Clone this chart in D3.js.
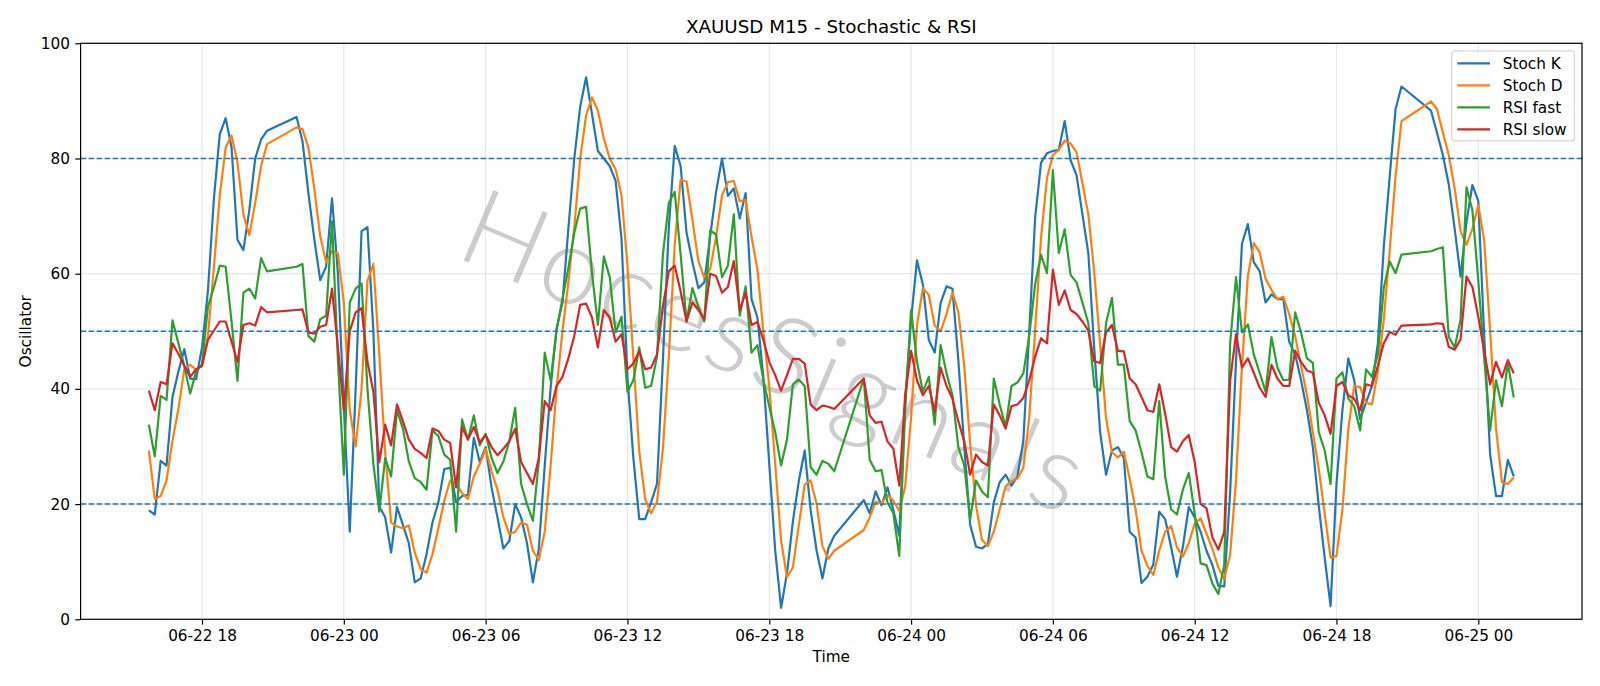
<!DOCTYPE html>
<html>
<head>
<meta charset="utf-8">
<title>XAUUSD M15 - Stochastic & RSI</title>
<script src="https://cdn.jsdelivr.net/npm/d3@7"></script>
<style>
body { margin: 0; background: #fff; }
svg { display: block; font-family: "DejaVu Sans", sans-serif; }
</style>
</head>
<body>
<svg width="1600" height="686"></svg>
<script>
// 15 minute bars, the feed pauses every day from 21:00 to 22:00
var sessions = [
    ['2021-06-22 15:45', '2021-06-22 20:45'],
    ['2021-06-22 22:00', '2021-06-23 20:45'],
    ['2021-06-23 22:00', '2021-06-24 20:45'],
    ['2021-06-24 22:00', '2021-06-25 01:30']
];

var stochK = [
    // 06-22 15:45 - 20:45
    18.9, 18.2, 27.5, 26.7, 38.6, 43, 46.9, 41.8, 41.7, 47.2, 57, 72.9, 84.2, 87.0, 81.9, 65.9, 64.1, 71, 80, 83.3, 84.8,
    // 06-22 22:00 - 06-23 20:45
    87.2, 83, 74, 66, 58.9, 61.2, 73.1, 60,
    37, 15.2, 40, 67.4, 68.1, 50, 19.6, 17.7, 11.6, 19.5, 16.4, 13.2, 6.4, 7.1, 11.3, 16.8, 20.3, 26.1, 26.3, 20.3,
    21.4, 21.6, 31.5, 27.3, 29.9, 22.9, 17.7, 12.3, 13.6, 20.0, 17.7, 13.2, 6.4, 12.3, 26.7, 40.2, 50.5, 55.0, 67.8, 80.0,
    89.0, 94.1, 87.7, 81.3, 80,
    78.7, 76.1, 66, 42, 28, 17.4, 17.4, 20.3, 23.5, 45, 68, 82.2, 78.7, 67.1, 62.0, 57.5, 58.5, 66.5, 74.2, 80.0,
    73.5, 74.8, 69.6, 74.0, 55.6, 52.4, 42, 27, 12, 2, 8, 17, 24, 29.3, 19, 12, 7.1, 12.3, 14.5,
    // 06-23 22:00 - 06-24 20:45
    20.7, 18.4, 22.2, 19.8, 22.9, 19.0, 14.5, 38,
    52, 62.3, 58.1, 48.5, 46.3, 54.9, 57.8, 57.4, 45, 30, 16.4, 12.6, 12.3, 13.1, 20.3, 23.8, 25.1, 23.2, 24.8, 31,
    50, 69.7, 79.3, 80.9, 81.3, 81.5, 86.5, 79.7, 77.1, 70.3, 63.6, 47, 32.5, 25.1, 29.3, 29.9, 28, 15.2, 14.2, 6.3,
    7.4, 9.5, 18.7, 17.4, 12.6, 7.4, 12.6, 19.5, 17.7, 15.2, 11.9, 9.4, 5.8, 5.7, 22, 45, 65.2, 68.6, 62.0, 60.4,
    55.0, 56.4, 55.6, 55.6, 48.2, 46.0, 41.5, 36.3, 29.9, 19.7, 10.7, 2.3, 23.5, 36.3, 45.3, 41.5, 34.7, 37.6, 40.5, 47.9,
    64.6, 76.8, 88.6, 92.5,
    // 06-24 22:00 - 06-25 01:30
    88.3, 84.5, 80.6, 75.5, 67.8, 59.5, 69, 75.4, 72.6, 49.2, 28.6, 21.4, 21.4, 27.7, 24.8
];

var stochD = [
    29.3, 20.9, 21.4, 24.1, 31, 36.5, 43.4, 44.2, 43.3, 44, 49.2, 61, 73.6, 81.9, 84.0, 79.3, 70.3, 66.7, 72.3, 78.7, 82.5,
    85.4, 85.1, 81.9, 74.8, 66.5, 62, 63.9, 63.5,
    55, 36.3, 30, 40, 58.8, 61.7, 46, 29, 16.8, 16.1, 15.8, 16.3, 11.6, 8.7, 8.1, 11.3, 15.8, 20.6, 24.1, 23.5,
    21.9, 20.9, 24.8, 27.0, 29.6, 25.7, 22.5, 17.7, 14.8, 15.2, 16.8, 16.4, 11.9, 10.3, 15.2, 26.7, 40, 50, 58.5, 68,
    80, 87.5, 90.6, 88.3, 83.5,
    80.0, 78.1, 73.6, 61.4, 45.3, 29.1, 20.9, 18.4, 20.4, 29.6, 45.5, 65, 76.3, 76.0, 69.3, 62.2, 59.3, 60.8, 66.4, 73.6,
    75.9, 76.1, 72.6, 72.8, 66.4, 60.7, 50, 40.5, 27, 13.7, 7.3, 9, 16.3, 23.4, 24.1, 20.1, 12.7, 10.5, 11.9,
    15.5, 17.7, 20.4, 20.1, 21.6, 20.6, 18.8, 23,
    35, 51, 57.5, 56.3, 51, 50, 53, 56.7, 53.4, 44, 30.5, 19.7, 13.8, 12.7, 15.2, 19.1, 23.1, 24, 24.4, 26.3,
    35, 50.2, 66.3, 76.6, 80.6, 81.5, 83.1, 82.6, 81.1, 75.7, 70.3, 60.3, 47.7, 34.9, 29, 28.1, 29.1, 24.4, 19.1, 11.9,
    9.3, 7.7, 11.9, 15.2, 16.2, 12.5, 10.9, 13.2, 16.6, 17.5, 14.9, 12.2, 9, 7, 11.2, 24.2, 44, 59.6, 65.3, 63.7,
    59.1, 57.2, 55.6, 56.0, 53.0, 49.2, 44.0, 38.9, 32.5, 26.1, 18.4, 10.7, 11, 19, 33, 40.5, 40.3, 37.6, 37.3, 43,
    52, 64, 77, 86.5,
    89.9, 88.6, 84.5, 80.6, 74.8, 67.4, 65, 67.8, 71.9, 65.7, 50.1, 33.1, 23.8, 23.5, 24.6
];

var rsiFast = [
    33.8, 28.3, 38.8, 38.1, 51.9, 47.9, 44.0, 39.2, 43.0, 44.3, 54.3, 57.6, 61.4, 61.2, 51.7, 41.4, 56.7, 57.4, 55.7, 62.7, 60.4,
    61.2, 61.7, 49.2, 48.2, 52.1, 52.7, 69.1, 45,
    25.1, 55, 57.4, 58.3, 40, 27, 18.7, 28.0, 24.8, 36.3, 33.1, 27.4, 24.5, 23.8, 22.5, 32.8, 31.8, 28.6, 27.7, 15.2,
    34.7, 31.2, 35.4, 30.2, 32.2, 28.0, 25.4, 27.4, 30.9, 36.7, 23.5, 20.0, 17.1, 27.4, 46.3, 41.5, 50.1, 55.6, 61.0, 67.1,
    71.3, 71.6, 60.1, 51.1, 63.0,
    59.4, 49.8, 52.5, 39.5, 41.5, 47.2, 40.2, 40.5, 45.6, 63.3, 72.3, 74.2, 63.3, 51.7, 57.5, 54.3, 51.7, 67.5, 66.8, 59.4,
    61.4, 70.3, 52.7, 57.8, 46.3, 47.6, 41.5, 37.0, 32.5, 26.7, 31.2, 40.8, 41.6, 40.5, 26.4, 25.1, 27.5, 27.0, 25.7,
    41.8, 27.7, 25.7, 25.9, 20.3, 18.4, 11.0, 36.3,
    53.7, 44.7, 39.5, 42.1, 33.8, 47.6, 42.7, 38.9, 29.9, 26.7, 17.4, 24.1, 22.2, 21.2, 41.8, 37.3, 33.4, 40.5, 41.1, 42.7,
    49.2, 58.2, 63.3, 60.1, 78.0, 63.6, 67.7, 59.8, 58.5, 55.0, 51.4, 40.5, 39.7, 51.4, 55.8, 44.2, 44.2, 34.4, 32.8, 29.0,
    24.8, 24.3, 37.9, 24.8, 19.1, 18.2, 22.5, 25.4, 18.4, 9.7, 9.4, 6.2, 4.4, 9.4, 47.9, 59.4, 49.8, 51.2, 46.0, 42.8,
    39.5, 49.0, 43.7, 41.5, 41.6, 53.3, 49.8, 45.3, 44.5, 32.5, 29.3, 23.5, 41.8, 42.9, 38.3, 37.0, 32.8, 43.4, 42.1, 46.0,
    57.5, 62.1, 60.1, 63.3,
    63.9, 64.3, 64.6, 49.0, 47.2, 52.0, 75.0, 71.0, 58.8, 45.3, 32.8, 41.5, 37.0, 44.5, 38.5
];

var rsiSlow = [
    39.7, 36.3, 41.2, 40.8, 47.9, 46.1, 44.0, 42.1, 43.4, 44.0, 48.5, 50.1, 51.7, 51.7, 48.2, 44.7, 51.1, 51.4, 51.0, 54.2, 53.3,
    53.7, 53.8, 49.8, 49.6, 50.8, 51.1, 57.4, 47.2,
    36.3, 50, 53.3, 54.0, 44.7, 39.5, 27.3, 33.8, 30.2, 37.3, 34.4, 31.2, 29.6, 28.9, 28.0, 33.1, 32.7, 31.2, 30.6, 22.9,
    33.4, 31.2, 33.4, 30.7, 32.0, 29.9, 28.5, 29.6, 30.9, 33.1, 27.3, 25.4, 23.5, 28.0, 37.9, 36.3, 40.5, 42.1, 45.3, 49.2,
    54.6, 54.8, 52.4, 47.2, 53.7,
    52.4, 48.2, 49.5, 43.4, 44.4, 46.6, 43.4, 43.7, 46.0, 54.3, 60.4, 61.4, 56.9, 51.7, 55.0, 53.7, 52.1, 60.0, 59.6, 56.7,
    57.7, 62.2, 53.7, 56.7, 51.1, 51.6, 48.5, 44.7, 42.4, 39.7, 42.4, 45.2, 45.2, 44.4, 37.3, 36.3, 37.1, 36.9, 36.5,
    41.8, 35.4, 34.1, 34.3, 30.9, 29.6, 23.2, 38.9,
    46.6, 41.5, 38.9, 40.5, 36.0, 43.7, 40.5, 38.3, 34.4, 30.9, 25.1, 28.6, 27.3, 26.7, 37.3, 35.4, 33.1, 37.0, 37.3, 38.4,
    41.5, 45.6, 48.8, 47.9, 60.7, 54.6, 57.1, 53.7, 53.0, 51.7, 50.1, 44.8, 44.5, 49.8, 51.1, 46.6, 46.5, 41.8, 40.8, 38.6,
    36.3, 36.0, 40.8, 35.7, 29.9, 29.1, 30.9, 32.0, 27.3, 20.0, 19.3, 14.2, 12.1, 15.2, 41.5, 49.5, 43.7, 45.3, 42.8, 40.2,
    38.6, 44.2, 41.8, 40.5, 40.5, 46.6, 44.7, 43.2, 42.8, 37.6, 35.4, 32.2, 40.5, 41.2, 38.9, 38.3, 36.3, 40.8, 40.5, 44.0,
    47.9, 49.9, 49.4, 51.0,
    51.2, 51.4, 51.3, 47.3, 46.8, 48.6, 59.5, 57.7, 52.5, 46.5, 40.8, 44.7, 42.0, 45.0, 42.7
];

var seriesNames = ['Stoch K', 'Stoch D', 'RSI fast', 'RSI slow'];
var seriesColors = ['#1f77b4', '#ff7f0e', '#2ca02c', '#d62728'];
var levels = [20, 50, 80];
var yTicks = [0, 20, 40, 60, 80, 100];

var svg = d3.select('svg');

var plot = {l: 80.6, r: 1582, t: 43.3, b: 619.3};

// expand sessions to bar timestamps
var parseTime = d3.utcParse('%Y-%m-%d %H:%M');
var times = [];
sessions.forEach(function(s) {
    var stop = new Date(+parseTime(s[1]) + 1);
    times = times.concat(d3.utcMinute.every(15).range(parseTime(s[0]), stop));
});
if (times.length !== stochK.length) console.error('length mismatch', times.length, stochK.length);

var series = [stochK, stochD, rsiFast, rsiSlow];

// matplotlib style 5% margins on x
var t0 = +times[0], t1 = +times[times.length - 1];
var pad = (t1 - t0) * 0.05;
var xScale = d3.scaleUtc()
    .domain([new Date(t0 - pad), new Date(t1 + pad)])
    .range([plot.l, plot.r]);
var yScale = d3.scaleLinear()
    .domain([0, 100])
    .range([plot.b, plot.t]);

var xTicks = d3.utcHour.every(6).range(new Date(t0), new Date(t1 + pad));

svg.append('rect')
    .attr('width', 1600).attr('height', 686)
    .attr('fill', '#fff');

svg.append('defs').append('clipPath').attr('id', 'clip')
    .append('rect')
    .attr('x', plot.l).attr('y', plot.t)
    .attr('width', plot.r - plot.l).attr('height', plot.b - plot.t);

// grid
var gridG = svg.append('g').attr('stroke', '#b0b0b0').attr('stroke-opacity', 0.3).attr('stroke-width', 1.2);
gridG.selectAll('.vgrid').data(xTicks).enter().append('line')
    .attr('x1', function(d) { return xScale(d); })
    .attr('x2', function(d) { return xScale(d); })
    .attr('y1', plot.t).attr('y2', plot.b);
gridG.selectAll('.hgrid').data(yTicks).enter().append('line')
    .attr('x1', plot.l).attr('x2', plot.r)
    .attr('y1', function(d) { return yScale(d); })
    .attr('y2', function(d) { return yScale(d); });

// watermark, thin grey lettering across the plot
svg.append('text')
    .attr('transform', 'translate(776,352) rotate(23)')
    .attr('text-anchor', 'middle')
    .attr('dy', '0.35em')
    .attr('font-size', 108)
    .attr('font-weight', 300)
    .attr('font-family', '"Lato", "DejaVu Sans", sans-serif')
    .attr('letter-spacing', 5)
    .attr('fill', '#9a9a9a')
    .attr('fill-opacity', 0.5)
    .text('HocesSignals');

// series
var line = d3.line()
    .x(function(d) { return xScale(d[0]); })
    .y(function(d) { return yScale(d[1]); });

var linesG = svg.append('g').attr('clip-path', 'url(#clip)');
series.forEach(function(values, k) {
    var pts = times.map(function(t, i) { return [t, values[i]]; });
    linesG.append('path')
        .datum(pts)
        .attr('d', line)
        .attr('fill', 'none')
        .attr('stroke', seriesColors[k])
        .attr('stroke-width', 2.2)
        .attr('stroke-linejoin', 'round');
});

// overbought / mid / oversold levels
linesG.selectAll('.level').data(levels).enter().append('line')
    .attr('x1', plot.l).attr('x2', plot.r)
    .attr('y1', function(d) { return yScale(d); })
    .attr('y2', function(d) { return yScale(d); })
    .attr('stroke', '#1f77b4')
    .attr('stroke-width', 1.5)
    .attr('stroke-dasharray', '5.6,2.4');

// axes
var xAxisG = svg.append('g')
    .attr('transform', 'translate(0,' + plot.b + ')')
    .call(d3.axisBottom(xScale).tickValues(xTicks).tickFormat(d3.utcFormat('%m-%d %H')).tickSize(5.3).tickPadding(5.3));
var yAxisG = svg.append('g')
    .attr('transform', 'translate(' + plot.l + ',0)')
    .call(d3.axisLeft(yScale).tickValues(yTicks).tickSize(5.3).tickPadding(5.3));
[xAxisG, yAxisG].forEach(function(g) {
    g.select('.domain').remove();
    g.selectAll('line').attr('stroke', '#000').attr('stroke-width', 1.2);
    g.selectAll('text').attr('font-size', 15.3).attr('fill', '#000')
        .attr('font-family', '"DejaVu Sans", sans-serif');
});

svg.append('rect')
    .attr('x', plot.l).attr('y', plot.t)
    .attr('width', plot.r - plot.l).attr('height', plot.b - plot.t)
    .attr('fill', 'none')
    .attr('stroke', '#000')
    .attr('stroke-width', 1.2);

// labels
svg.append('text')
    .attr('x', (plot.l + plot.r) / 2).attr('y', 32.5)
    .attr('text-anchor', 'middle')
    .attr('font-size', 18.3)
    .text('XAUUSD M15 - Stochastic & RSI');
svg.append('text')
    .attr('x', (plot.l + plot.r) / 2).attr('y', 662)
    .attr('text-anchor', 'middle')
    .attr('font-size', 15.3)
    .text('Time');
svg.append('text')
    .attr('transform', 'translate(25.5,' + (plot.t + plot.b) / 2 + ') rotate(-90)')
    .attr('text-anchor', 'middle')
    .attr('dy', '0.35em')
    .attr('font-size', 15.3)
    .text('Oscillator');

// legend
var legendG = svg.append('g').attr('transform', 'translate(1451.7,50.9)');
legendG.append('rect')
    .attr('width', 122.7).attr('height', 90)
    .attr('rx', 3)
    .attr('fill', '#fff').attr('fill-opacity', 0.8)
    .attr('stroke', '#d6d6d6').attr('stroke-width', 1.2);
var items = legendG.selectAll('.item').data(seriesNames).enter().append('g')
    .attr('transform', function(d, i) { return 'translate(0,' + (12.4 + i * 22) + ')'; });
items.append('line')
    .attr('x1', 5.6).attr('x2', 38.3)
    .attr('stroke', function(d, i) { return seriesColors[i]; })
    .attr('stroke-width', 2.2);
items.append('text')
    .attr('x', 51).attr('dy', '0.35em')
    .attr('font-size', 15.3)
    .text(function(d) { return d; });
</script>
</body>
</html>
